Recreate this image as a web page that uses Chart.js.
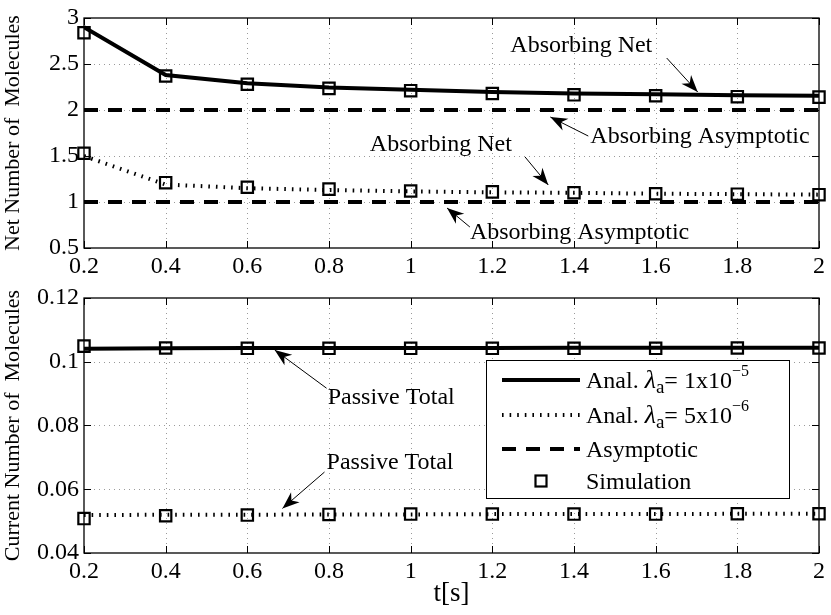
<!DOCTYPE html>
<html>
<head>
<meta charset="utf-8">
<script src="https://cdn.jsdelivr.net/npm/chart.js@4.4.1/dist/chart.umd.min.js"></script>
<style>
  html, body { margin: 0; padding: 0; background: #fff; }
  #wrap { position: relative; width: 831px; height: 615px; }
  canvas { position: absolute; left: 0; }
  #netChart { top: 0; }
  #curChart { top: 285px; }
</style>
</head>
<body>
<div id="wrap">
  <canvas id="netChart" width="831" height="285"></canvas>
  <canvas id="curChart" width="831" height="330"></canvas>
</div>
<script>
// time axis (s)
const times = [0.2, 0.4, 0.6, 0.8, 1.0, 1.2, 1.4, 1.6, 1.8, 2.0];
const xTicks = [0.2, 0.4, 0.6, 0.8, 1, 1.2, 1.4, 1.6, 1.8, 2];
const netTicks = [0.5, 1, 1.5, 2, 2.5, 3];
const curTicks = [0.04, 0.06, 0.08, 0.1, 0.12];

// upper panel - net number of molecules
const netAnal1 = [2.90, 2.38, 2.29, 2.245, 2.22, 2.195, 2.18, 2.17, 2.16, 2.155];
const netAnal2 = [1.50, 1.19, 1.15, 1.13, 1.115, 1.105, 1.10, 1.09, 1.085, 1.08];
const netAsym1 = [2, 2, 2, 2, 2, 2, 2, 2, 2, 2];
const netAsym2 = [1, 1, 1, 1, 1, 1, 1, 1, 1, 1];
const netSim1 = [2.84, 2.37, 2.28, 2.235, 2.21, 2.18, 2.165, 2.155, 2.145, 2.14];
const netSim2 = [1.53, 1.21, 1.16, 1.14, 1.12, 1.11, 1.10, 1.09, 1.085, 1.08];

// lower panel - current number of molecules
const curAnal1 = [0.1041, 0.1042, 0.1043, 0.1043, 0.1043, 0.1043, 0.1044, 0.1044, 0.1044, 0.1044];
const curAnal2 = [0.0519, 0.0520, 0.0520, 0.0521, 0.0521, 0.0522, 0.0522, 0.0522, 0.0523, 0.0523];
const curSim1 = [0.1049, 0.1043, 0.1042, 0.1042, 0.1042, 0.1042, 0.1042, 0.1042, 0.1043, 0.1043];
const curSim2 = [0.0508, 0.0517, 0.0519, 0.0521, 0.0522, 0.0522, 0.0522, 0.0522, 0.0523, 0.0523];

// text callouts, in data units: label left/middle + arrow tail -> head
const netNotes = [
  { text: 'Absorbing Net', tx: 1.244, ty: 2.70, from: [1.627, 2.565], to: [1.703, 2.196] },
  { text: 'Absorbing Asymptotic', tx: 1.44, ty: 1.707, from: [1.435, 1.717], to: [1.342, 1.924] },
  { text: 'Absorbing Net', tx: 0.90, ty: 1.62, from: [1.28, 1.49], to: [1.337, 1.185] },
  { text: 'Absorbing Asymptotic', tx: 1.145, ty: 0.663, from: [1.145, 0.728], to: [1.089, 0.935] }
];
const curNotes = [
  { text: 'Passive Total', tx: 0.797, ty: 0.0886, from: [0.794, 0.0917], to: [0.667, 0.1037] },
  { text: 'Passive Total', tx: 0.794, ty: 0.0682, from: [0.789, 0.0654], to: [0.686, 0.0540] }
];

const SERIF = "'Liberation Serif', 'Times New Roman', serif";
Chart.defaults.font.family = SERIF;
Chart.defaults.color = '#000';

const SOLID = { borderColor: '#000', borderWidth: 4, pointRadius: 0 };
const DOTTED = { borderColor: '#000', borderWidth: 4, borderDash: [1.6, 6], pointRadius: 0 };
const DASHED = { borderColor: '#000', borderWidth: 4, borderDash: [14, 10], pointRadius: 0 };
const SQUARE = { showLine: false, pointStyle: 'rect', pointRadius: 8, pointBorderWidth: 2.2,
  pointBorderColor: '#000', pointBackgroundColor: 'rgba(0,0,0,0)', clip: false };

function pts(ys) { return times.map((t, i) => ({ x: t, y: ys[i] })); }

function line(ctx, x0, y0, x1, y1) {
  ctx.beginPath(); ctx.moveTo(x0, y0); ctx.lineTo(x1, y1); ctx.stroke();
}

function arrow(ctx, x0, y0, x1, y1) {
  ctx.lineWidth = 1;
  line(ctx, x0, y0, x1, y1);
  const a = Math.atan2(y1 - y0, x1 - x0), c = Math.cos(a), s = Math.sin(a);
  const L = 17, W = 6.5;
  const bx = x1 - L * c, by = y1 - L * s;
  ctx.beginPath();
  ctx.moveTo(x1, y1);
  ctx.lineTo(bx - W * s, by + W * c);
  ctx.lineTo(x1 - 0.7 * L * c, y1 - 0.7 * L * s);
  ctx.lineTo(bx + W * s, by - W * c);
  ctx.closePath();
  ctx.fill();
}

// matlab style box, dotted grid and inward ticks
const frame = {
  id: 'frame',
  beforeDatasetsDraw(chart) {
    const { ctx, chartArea: a, scales: { x, y } } = chart;
    ctx.save();
    ctx.strokeStyle = '#9a9a9a';
    ctx.lineWidth = 1;
    ctx.setLineDash([1, 4]);
    x.ticks.forEach(t => {
      const px = Math.round(x.getPixelForValue(t.value)) + 0.5;
      if (px > a.left + 2 && px < a.right - 2) line(ctx, px, a.top, px, a.bottom);
    });
    y.ticks.forEach(t => {
      const py = Math.round(y.getPixelForValue(t.value)) + 0.5;
      if (py > a.top + 2 && py < a.bottom - 2) line(ctx, a.left, py, a.right, py);
    });
    ctx.restore();
  },
  afterDatasetsDraw(chart) {
    const { ctx, chartArea: a, scales: { x, y } } = chart;
    ctx.save();
    ctx.strokeStyle = '#000';
    ctx.lineWidth = 1.3;
    ctx.strokeRect(a.left, a.top, a.right - a.left, a.bottom - a.top);
    ctx.lineWidth = 1;
    const tl = 7;
    x.ticks.forEach(t => {
      const px = Math.round(x.getPixelForValue(t.value)) + 0.5;
      line(ctx, px, a.bottom, px, a.bottom - tl);
      line(ctx, px, a.top, px, a.top + tl);
    });
    y.ticks.forEach(t => {
      const py = Math.round(y.getPixelForValue(t.value)) + 0.5;
      line(ctx, a.left, py, a.left + tl, py);
      line(ctx, a.right, py, a.right - tl, py);
    });
    ctx.restore();
  }
};

const notes = {
  id: 'notes',
  afterDatasetsDraw(chart, args, opts) {
    const { ctx, scales: { x, y } } = chart;
    ctx.save();
    ctx.fillStyle = '#000';
    ctx.strokeStyle = '#000';
    ctx.font = '24px ' + SERIF;
    ctx.textBaseline = 'middle';
    ctx.textAlign = 'left';
    (opts.items || []).forEach(n => {
      ctx.fillText(n.text, x.getPixelForValue(n.tx), y.getPixelForValue(n.ty));
      arrow(ctx, x.getPixelForValue(n.from[0]), y.getPixelForValue(n.from[1]),
        x.getPixelForValue(n.to[0]), y.getPixelForValue(n.to[1]));
    });
    ctx.restore();
  }
};

// legend box drawn inside the lower axes
const boxLegend = {
  id: 'boxLegend',
  afterDraw(chart) {
    const { ctx, chartArea: a } = chart;
    const L = a.right - 333, T = a.top + 62, W = 303, H = 138;
    ctx.save();
    ctx.fillStyle = '#fff';
    ctx.fillRect(L, T, W, H);
    ctx.strokeStyle = '#000';
    ctx.lineWidth = 1;
    ctx.strokeRect(L + 0.5, T + 0.5, W, H);
    const rows = [T + 20, T + 55, T + 89, T + 121];
    const x0 = L + 16, x1 = L + 94, tx = L + 100;
    // samples
    ctx.lineWidth = SOLID.borderWidth; ctx.setLineDash([]);
    line(ctx, x0, rows[0], x1, rows[0]);
    ctx.lineWidth = DOTTED.borderWidth; ctx.setLineDash(DOTTED.borderDash);
    line(ctx, x0, rows[1], x1, rows[1]);
    ctx.lineWidth = DASHED.borderWidth; ctx.setLineDash(DASHED.borderDash);
    line(ctx, x0, rows[2], x1, rows[2]);
    ctx.setLineDash([]);
    ctx.lineWidth = 2.2;
    ctx.strokeRect((x0 + x1) / 2 - 5.5, rows[3] - 5.5, 11, 11);
    // labels
    ctx.fillStyle = '#000';
    ctx.textBaseline = 'alphabetic';
    ctx.textAlign = 'left';
    const lam = (yc, mant, exp) => {
      const base = yc + 8;
      let cx = tx;
      const put = (s, font, dy) => { ctx.font = font; ctx.fillText(s, cx, base + dy); cx += ctx.measureText(s).width; };
      put('Anal. ', '24px ' + SERIF, 0);
      put('\u03BB', 'italic 26px ' + SERIF, 0);
      put('a', '19px ' + SERIF, 5);
      put('= ' + mant + 'x10', '24px ' + SERIF, 0);
      put('\u2212' + exp, '16px ' + SERIF, -12);
    };
    lam(rows[0], '1', '5');
    lam(rows[1], '5', '6');
    ctx.font = '24px ' + SERIF;
    ctx.fillText('Asymptotic', tx, rows[2] + 8);
    ctx.fillText('Simulation', tx, rows[3] + 8);
    ctx.restore();
  }
};

function xScale(titleText, height) {
  return {
    type: 'linear', min: 0.2, max: 2,
    afterBuildTicks: s => { s.ticks = xTicks.map(v => ({ value: v })); },
    afterFit: s => { s.height = height; s.paddingLeft = 0; s.paddingRight = 0; },
    grid: { display: false, drawTicks: false },
    border: { display: false },
    ticks: { font: { size: 24 }, padding: 4, maxRotation: 0, autoSkip: false, callback: v => String(v) },
    title: titleText ? { display: true, text: titleText, font: { size: 27 }, padding: { top: 0, bottom: 5 } } : { display: false }
  };
}

function yScale(titleText, min, max, tickVals) {
  return {
    type: 'linear', min: min, max: max,
    afterBuildTicks: s => { s.ticks = tickVals.map(v => ({ value: v })); },
    afterFit: s => { s.width = 84; s.paddingTop = 0; s.paddingBottom = 0; },
    grid: { display: false, drawTicks: false },
    border: { display: false },
    ticks: { font: { size: 24 }, padding: 5, autoSkip: false, callback: v => String(v) },
    title: { display: true, text: titleText, font: { size: 22 }, padding: { top: 0, bottom: 0 } }
  };
}

const common = {
  responsive: false,
  animation: false,
  events: [],
  plugins: { legend: { display: false }, tooltip: { enabled: false } }
};

new Chart(document.getElementById('netChart').getContext('2d'), {
  type: 'line',
  data: {
    datasets: [
      Object.assign({ label: 'Anal. 1e-5', data: pts(netAnal1) }, SOLID),
      Object.assign({ label: 'Anal. 5e-6', data: pts(netAnal2) }, DOTTED),
      Object.assign({ label: 'Asymptotic', data: pts(netAsym1) }, DASHED),
      Object.assign({ label: 'Asymptotic 2', data: pts(netAsym2) }, DASHED),
      Object.assign({ label: 'Simulation', data: pts(netSim1) }, SQUARE),
      Object.assign({ label: 'Simulation 2', data: pts(netSim2) }, SQUARE)
    ]
  },
  options: Object.assign({}, common, {
    layout: { padding: { top: 18, right: 12, left: 0, bottom: 0 } },
    scales: { x: xScale(null, 37), y: yScale('Net Number of  Molecules', 0.5, 3, netTicks) },
    plugins: Object.assign({}, common.plugins, { notes: { items: netNotes } })
  }),
  plugins: [frame, notes]
});

new Chart(document.getElementById('curChart').getContext('2d'), {
  type: 'line',
  data: {
    datasets: [
      Object.assign({ label: 'Anal. 1e-5', data: pts(curAnal1) }, SOLID),
      Object.assign({ label: 'Anal. 5e-6', data: pts(curAnal2) }, DOTTED),
      Object.assign({ label: 'Simulation', data: pts(curSim1) }, SQUARE),
      Object.assign({ label: 'Simulation 2', data: pts(curSim2) }, SQUARE)
    ]
  },
  options: Object.assign({}, common, {
    layout: { padding: { top: 13, right: 12, left: 0, bottom: 0 } },
    scales: { x: xScale('t[s]', 62), y: yScale('Current Number of  Molecules', 0.04, 0.12, curTicks) },
    plugins: Object.assign({}, common.plugins, { notes: { items: curNotes } })
  }),
  plugins: [frame, notes, boxLegend]
});
</script>
</body>
</html>
